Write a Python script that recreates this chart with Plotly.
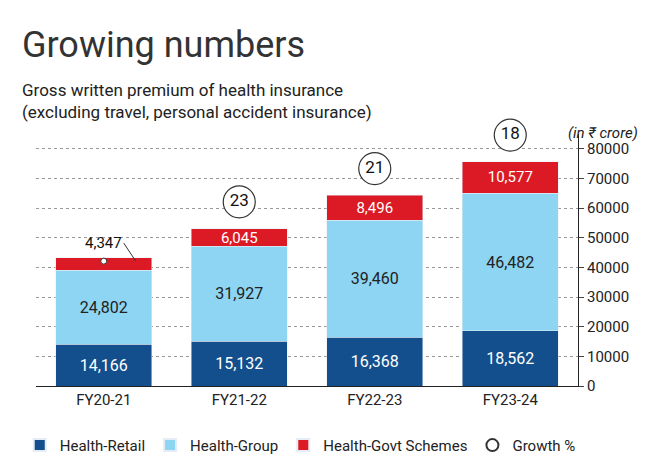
import plotly.graph_objects as go

years = ["FY20-21", "FY21-22", "FY22-23", "FY23-24"]
retail = [14166, 15132, 16368, 18562]
group = [24802, 31927, 39460, 46482]
govt = [4347, 6045, 8496, 10577]
growth = [None, 23, 21, 18]
yticks = [0, 10000, 20000, 30000, 40000, 50000, 60000, 70000, 80000]

totals = [a + b + c for a, b, c in zip(retail, group, govt)]
F = "Roboto"
fig = go.Figure()
fig.add_bar(x=years, y=retail, name="Health-Retail", marker_color="#124f8c",
            text=[f"{v:,}" for v in retail], textposition="inside", insidetextanchor="middle",
            constraintext="none", textfont=dict(color="white", size=16, family=F))
fig.add_bar(x=years, y=group, name="Health-Group", marker_color="#8dd5f2",
            text=[f"{v:,}" for v in group], textposition="inside", insidetextanchor="middle",
            constraintext="none", textfont=dict(color="#222", size=16, family=F))
fig.add_bar(x=years, y=govt, name="Health-Govt Schemes", marker_color="#dc1a25",
            text=[""] + [f"{v:,}" for v in govt[1:]], textposition="inside", insidetextanchor="middle",
            constraintext="none", textfont=dict(color="white", size=15, family=F))
gx = [y for y, g in zip(years, growth) if g]
gy = [t + 9000 for t, g in zip(totals, growth) if g]
fig.add_scatter(x=gx, y=gy, mode="markers+text", name="Growth %", cliponaxis=False,
                text=[str(g) for g in growth if g], textposition="middle center",
                textfont=dict(size=17, color="#111", family=F),
                marker=dict(size=32, color="white", line=dict(color="#333", width=1.2)))
fig.add_annotation(x=years[0], y=totals[0] - 1200, xshift=32, text="4,347", showarrow=True,
                   ax=-12, ay=-18, arrowhead=0, arrowcolor="#333", font=dict(size=15, family=F, color="#111"),
                   xanchor="right")
fig.add_scatter(x=[years[0]], y=[totals[0] - 1200], mode="markers", showlegend=False,
                marker=dict(size=6, color="white", line=dict(color="#333", width=1)))
fig.add_annotation(xref="paper", yref="paper", x=-0.03, y=1.0, yshift=112, text="Growing numbers",
                   showarrow=False, xanchor="left", font=dict(size=36, family=F, color="#333"))
fig.add_annotation(xref="paper", yref="paper", x=-0.03, y=1.0, yshift=56,
                   text="Gross written premium of health insurance<br>(excluding travel, personal accident insurance)",
                   showarrow=False, xanchor="left", align="left", font=dict(size=17, family=F, color="#222"))
fig.add_annotation(xref="paper", yref="paper", x=1.0, y=1.0, yshift=12, xshift=62,
                   text="<i>(in ₹ crore)</i>", showarrow=False, xanchor="right",
                   font=dict(size=15, family=F, color="#222"))
fig.update_layout(
    width=660, height=466, barmode="stack", bargap=0.29, plot_bgcolor="white", paper_bgcolor="white",
    margin=dict(l=25, r=90, t=126, b=78), font=dict(family=F),
    legend=dict(orientation="h", x=-0.03, y=-0.17, yanchor="top", font=dict(size=15, color="#222"),
                itemsizing="constant", traceorder="normal"),
    xaxis=dict(showline=True, linecolor="#222", tickfont=dict(size=15, color="#222")),
    yaxis=dict(side="right", range=[0, 85000], tickvals=yticks, tickformat="d",
               showgrid=True, gridcolor="#999", griddash="dot", showline=True, linecolor="#222",
               ticks="outside", ticklen=5, tickfont=dict(size=15, color="#222")),
)
fig.write_html("out.html")
